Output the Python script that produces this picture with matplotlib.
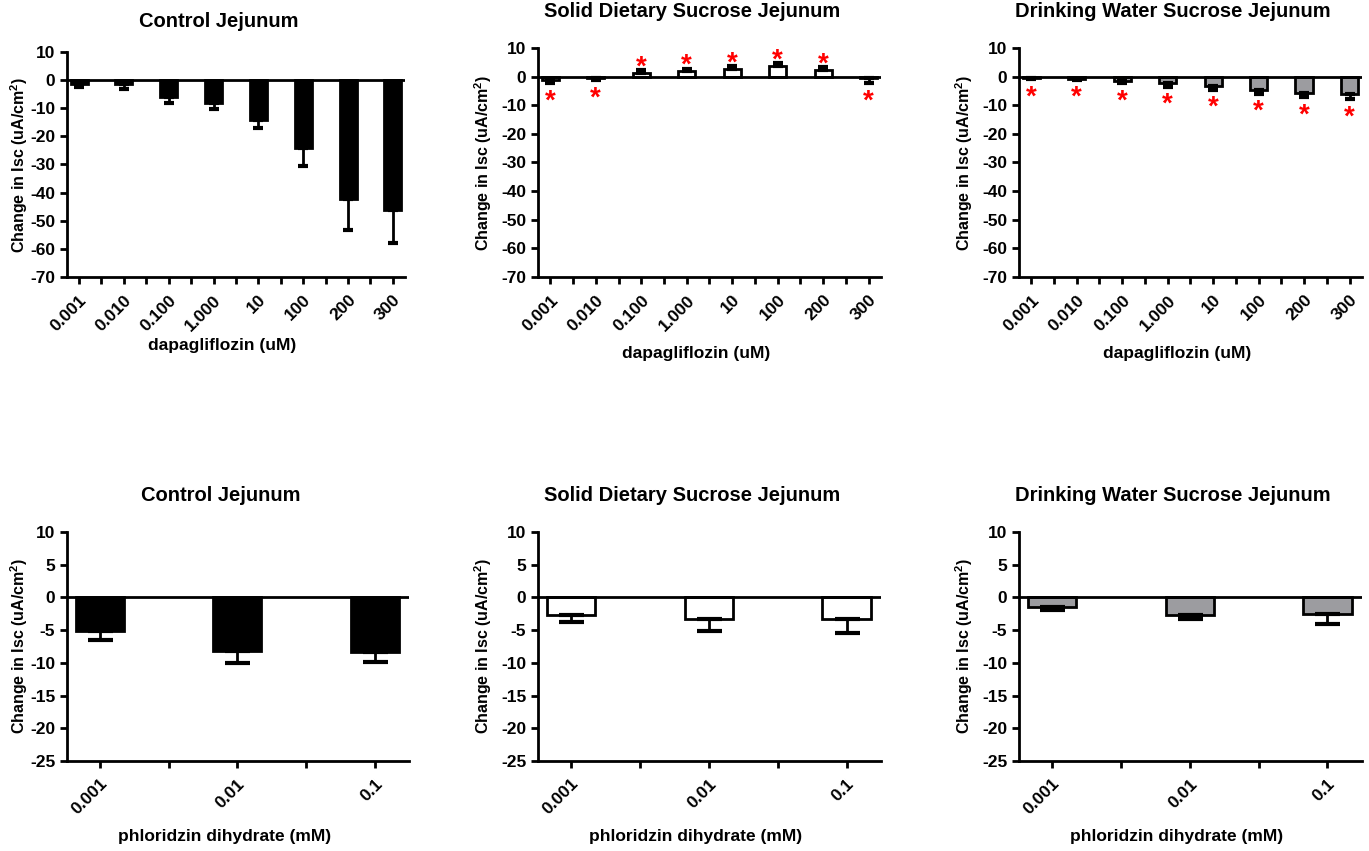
import numpy as np
import matplotlib
matplotlib.use("Agg")
import matplotlib.pyplot as plt
from matplotlib.ticker import MultipleLocator

plt.rcParams['font.family'] = ['Liberation Sans', 'DejaVu Sans']
plt.rcParams['font.weight'] = 'bold'
plt.rcParams['axes.labelweight'] = 'bold'
plt.rcParams['axes.titleweight'] = 'bold'
plt.rcParams['axes.unicode_minus'] = False
plt.rcParams['mathtext.fontset'] = 'custom'
plt.rcParams['mathtext.bf'] = 'Liberation Sans:bold'
plt.rcParams['mathtext.rm'] = 'Liberation Sans:bold'
plt.rcParams['mathtext.default'] = 'bf'

# ---- data ----
titles = ["Control Jejunum", "Solid Dietary Sucrose Jejunum", "Drinking Water Sucrose Jejunum"]
fills = ["black", "white", "#9c9ca0"]

dapa_labels = ["0.001", "0.010", "0.100", "1.000", "10", "100", "200", "300"]
dapa_mean = [
    [-1.3, -1.3, -6.0, -8.3, -14.1, -24.3, -42.2, -46.3],   # control
    [-1.1, -0.5, 1.3, 2.0, 2.8, 3.7, 2.3, -0.5],             # solid sucrose
    [-0.5, -0.7, -1.5, -2.4, -3.3, -4.7, -5.6, -6.0],        # drinking water
]
dapa_sem = [
    [1.2, 1.9, 2.2, 2.0, 3.0, 6.1, 11.0, 11.6],
    [1.2, 0.7, 1.0, 0.8, 0.9, 0.9, 0.9, 1.8],
    [0.4, 0.4, 0.8, 1.1, 1.2, 1.2, 1.6, 1.8],
]
dapa_sig = [
    [False] * 8,
    [True] * 8,
    [True] * 8,
]

phlo_labels = ["0.001", "0.01", "0.1"]
phlo_mean = [
    [-5.2, -8.2, -8.4],
    [-2.75, -3.3, -3.25],
    [-1.4, -2.7, -2.6],
]
phlo_sem = [
    [1.3, 1.85, 1.5],
    [0.95, 1.9, 2.2],
    [0.5, 0.6, 1.5],
]

top_pos = [[0.0489, 0.6745, 0.2469, 0.2644],
           [0.3930, 0.6745, 0.2505, 0.2691],
           [0.7443, 0.6745, 0.2505, 0.2691]]
bot_pos = [[0.0489, 0.1058, 0.2498, 0.2691],
           [0.3930, 0.1058, 0.2505, 0.2691],
           [0.7443, 0.1058, 0.2505, 0.2691]]
ylab_x = [-0.108, -0.128, -0.128]

fig = plt.figure(figsize=(13.69, 8.51), dpi=100)


def style_axes(ax, labels, xlim, ylim, ystep, xlabel, xpad, ylx):
    ax.set_xlim(*xlim)
    ax.set_ylim(*ylim)
    ax.yaxis.set_major_locator(MultipleLocator(ystep))
    for s in ['top', 'right']:
        ax.spines[s].set_visible(False)
    for s in ['left', 'bottom']:
        ax.spines[s].set_linewidth(2)
    n = len(labels)
    ax.set_xticks(np.arange(n))
    ax.set_xticks(np.arange(n - 1) + 0.5, minor=True)
    ax.set_xticklabels(labels, rotation=45, ha='right', rotation_mode='anchor',
                       fontweight='bold')
    ax.tick_params(axis='both', which='both', direction='out', width=2, length=5, labelsize=12.5)
    ax.tick_params(axis='x', which='both', pad=6)
    for t in ax.get_yticklabels():
        t.set_fontweight('bold')
    ax.axhline(0, color='black', lw=2, zorder=4)
    ax.set_ylabel(r"Change in Isc (uA/cm$^{2}$)", fontsize=11.5, fontweight='bold')
    ax.yaxis.set_label_coords(ylx, 0.5)
    ax.set_xlabel(xlabel, fontsize=12.5, fontweight='bold', x=0.46, labelpad=xpad)


def draw_bars(ax, mean, sem, color, width, capsize):
    x = np.arange(len(mean))
    mean = np.array(mean)
    sem = np.array(sem)
    lower = np.where(mean < 0, sem, 0)
    upper = np.where(mean >= 0, sem, 0)
    ax.bar(x, mean, width, color=color, edgecolor='black', linewidth=2, zorder=2)
    ax.errorbar(x, mean, yerr=[lower, upper], fmt='none', ecolor='black',
                elinewidth=2, capsize=capsize, capthick=3, zorder=3)
    return x, mean, sem


for i in range(3):
    ax = fig.add_axes(top_pos[i])
    x, m, s = draw_bars(ax, dapa_mean[i], dapa_sem[i], fills[i], 0.38, 3.5)
    for j in range(len(m)):
        if dapa_sig[i][j]:
            # asterisk glyph sits ~4.5 units above its baseline at this size
            if m[j] >= 0:
                yb = m[j] + s[j] + 3.0 - 4.5
            else:
                yb = m[j] - s[j] - 4.3 - 4.5
            ax.text(x[j], yb, "*", color='red', fontsize=20, fontweight='bold',
                    ha='center', va='baseline')
    style_axes(ax, dapa_labels, (-0.27, 7.27), (-70, 10), 10, "dapagliflozin (uM)",
               3 if i == 0 else 9, ylab_x[i])
    ax.set_title(titles[i], fontsize=14.5, fontweight='bold', x=0.45, pad=22 if i else 18)

for i in range(3):
    ax = fig.add_axes(bot_pos[i])
    draw_bars(ax, phlo_mean[i], phlo_sem[i], fills[i], 0.35, 9)
    style_axes(ax, phlo_labels, (-0.24, 2.25), (-25, 10), 5, "phloridzin dihydrate (mM)", 8,
               ylab_x[i])
    ax.set_title(titles[i], fontsize=14.5, fontweight='bold', x=0.45, pad=22)

fig.savefig("out.png", dpi=100)
